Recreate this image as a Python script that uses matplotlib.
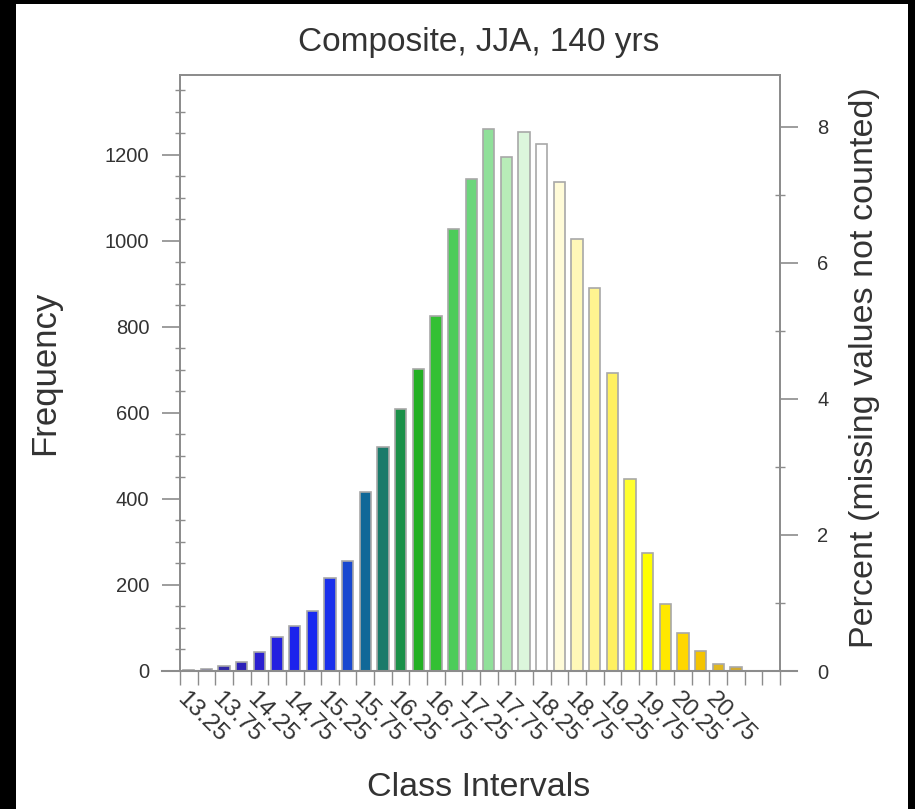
import numpy as np
import matplotlib
matplotlib.use("Agg")
import matplotlib.pyplot as plt
from matplotlib.patches import Rectangle

plt.rcParams['font.family'] = ['Liberation Sans', 'DejaVu Sans']

# histogram of JJA values, bins of 0.25 starting at 13.25
bin_start = 13.25
bin_width = 0.25
n_bins = 34   # last two bins are empty
counts = [3, 5, 12, 22, 45, 80, 105, 140, 216, 256, 416, 521, 609, 702, 826, 1028,
          1144, 1260, 1195, 1253, 1226, 1137, 1005, 891, 693, 447, 274, 156, 88, 47, 16, 9]
tick_labels = ["13.25", "13.75", "14.25", "14.75", "15.25", "15.75", "16.25", "16.75",
               "17.25", "17.75", "18.25", "18.75", "19.25", "19.75", "20.25", "20.75"]
bar_colors = ["#3a3a8c", "#34309a", "#3028a8", "#2c20b8", "#2a1ed0", "#2420e0", "#1c22ec",
              "#1828f0", "#1a30ec", "#1848d0", "#106898", "#1a7a6a", "#1a9048", "#22b022",
              "#33c033", "#4ccc5a", "#6cd67c", "#90e09a", "#b8ecb8", "#dcf6dc", "#ffffff",
              "#fffbd8", "#fff8b8", "#fff490", "#fff060", "#ffff30", "#ffff00", "#ffe800",
              "#ffd700", "#f4c400", "#e0b820", "#d0aa30"]

total = sum(counts)
edges = bin_start + bin_width * np.arange(n_bins + 1)
centers = edges[:len(counts)] + bin_width / 2

grey = "#8c8c8c"
txt = "#333333"

fig = plt.figure(figsize=(9.15, 8.09), dpi=100)
ax = fig.add_axes([180/915, 1 - 671/809, 600/915, 596/809])

ax.bar(centers, counts, width=0.16, color=bar_colors, edgecolor="#a8a8a8", linewidth=1.2, zorder=2)

ax.set_xlim(edges[0], edges[-1])
ymax = 1.1 * max(counts)
ax.set_ylim(0, ymax)

# x ticks at every bin boundary, labels on every other one
ax.set_xticks(edges)
lab = [""] * len(edges)
for i, t in enumerate(tick_labels):
    lab[2 * i] = t
ax.set_xticklabels(lab, rotation=-45, ha="left", va="center", rotation_mode="anchor",
                   fontsize=17.5, color=txt)
ax.tick_params(axis="x", direction="out", length=10, width=1, color=grey, pad=8)

ax.set_yticks(np.arange(0, 1201, 200))
ax.set_yticks(np.arange(0, ymax, 50), minor=True)
ax.tick_params(axis="y", which="major", direction="out", length=13, width=1.2,
               color=grey, labelsize=14.5, labelcolor=txt, pad=9)
ax.tick_params(axis="y", which="minor", direction="inout", length=7, width=1, color=grey)

for s in ax.spines.values():
    s.set_color(grey)
    s.set_linewidth(1.3)

# baseline running a bit past the frame
ax.axhline(0, xmin=-0.03, xmax=1.028, color=grey, linewidth=1.5, clip_on=False, zorder=3)

ax2 = ax.twinx()
ax2.set_ylim(0, ymax / total * 100)
ax2.set_yticks([0, 2, 4, 6, 8])
ax2.set_yticks([1, 3, 5, 7], minor=True)
ax2.tick_params(axis="y", which="major", direction="out", length=13, width=1.2,
                color=grey, labelsize=14.5, labelcolor=txt, pad=14)
ax2.tick_params(axis="y", which="minor", direction="inout", length=7, width=1, color=grey)
for s in ax2.spines.values():
    s.set_color(grey)
    s.set_linewidth(1.3)

fig.text(479/915, 1 - 42/809, "Composite, JJA, 140 yrs", ha="center", va="center",
         fontsize=24, color=txt)
fig.text(45/915, 1 - 373/809, "Frequency", ha="center", va="center", rotation=90,
         fontsize=25, color=txt)
fig.text(864/915, 1 - 368/809, "Percent (missing values not counted)", ha="center",
         va="center", rotation=90, fontsize=24.5, color=txt)
fig.text(479/915, 1 - 787/809, "Class Intervals", ha="center", va="center",
         fontsize=24.5, color=txt)

# black frame around the picture
for r in [(0, 0, 16/915, 1), (0, 1 - 4/809, 1, 4/809), (1 - 7/915, 0, 7/915, 1)]:
    fig.patches.append(Rectangle(r[:2], r[2], r[3], transform=fig.transFigure,
                                 facecolor="black", edgecolor="none", zorder=10))

fig.savefig("out.png", dpi=100)
